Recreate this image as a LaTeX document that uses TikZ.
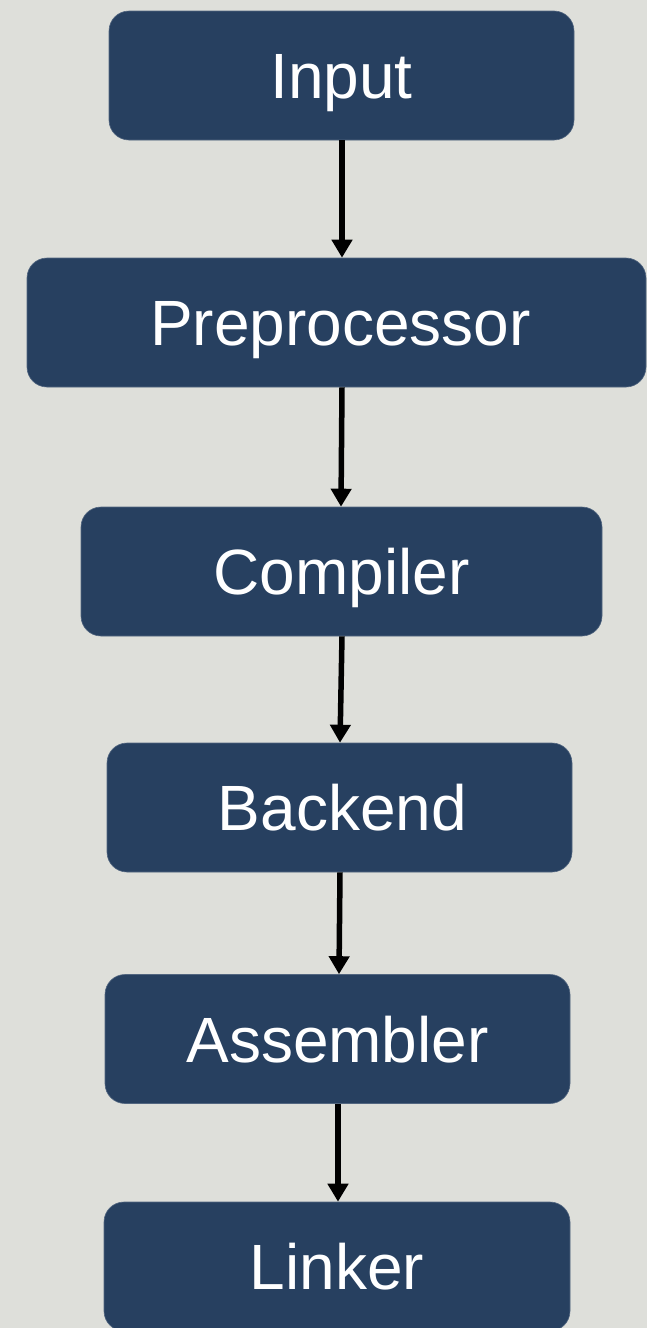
\documentclass[tikz,border=0pt]{standalone}
\usepackage{fontspec}
\setmainfont{Liberation Sans}
\usetikzlibrary{arrows.meta}
\definecolor{bgcol}{RGB}{222,223,218}
\definecolor{boxcol}{RGB}{39,64,96}
\begin{document}
\begin{tikzpicture}[x=1pt,y=-1pt,
  stage/.style={draw=boxcol!80!white, line width=0.6pt, fill=boxcol, rounded corners=20pt,
    inner sep=0pt, minimum height=129pt, text=white,
    font=\fontsize{64}{70}\selectfont, text height=46pt, text depth=0pt},
  flow/.style={line width=5.5pt, -{Triangle[width=20pt,length=18pt]}}]
  \fill[bgcol] (0,0) rectangle (647,1328);
  \useasboundingbox (0,0) rectangle (647,1328);

  \node[stage, minimum width=465pt] (input) at (341.5,75.5) {Input};
  \node[stage, minimum width=619pt] (pre)   at (336.5,322.5) {\hspace*{8pt}Preprocessor};
  \node[stage, minimum width=521pt] (comp)  at (341.5,571.5) {Compiler};
  \node[stage, minimum width=465pt] (back)  at (339.5,807.5) {\hspace*{6pt}Backend};
  \node[stage, minimum width=465pt] (asm)   at (337.5,1039) {Assembler};
  \node[stage, minimum width=466pt] (link)  at (337,1266.5) {Linker};

  \draw[flow] ([xshift=0.5pt]input.south) -- ([xshift=5.5pt]pre.north);
  \draw[flow] ([xshift=5.5pt]pre.south) -- ([xshift=-0.5pt]comp.north);
  \draw[flow] ([xshift=0.5pt]comp.south) -- ([xshift=0.5pt]back.north);
  \draw[flow] ([xshift=0.5pt]back.south) -- ([xshift=1.5pt]asm.north);
  \draw[flow] ([xshift=0.5pt]asm.south) -- ([xshift=1pt]link.north);
\end{tikzpicture}
\end{document}
